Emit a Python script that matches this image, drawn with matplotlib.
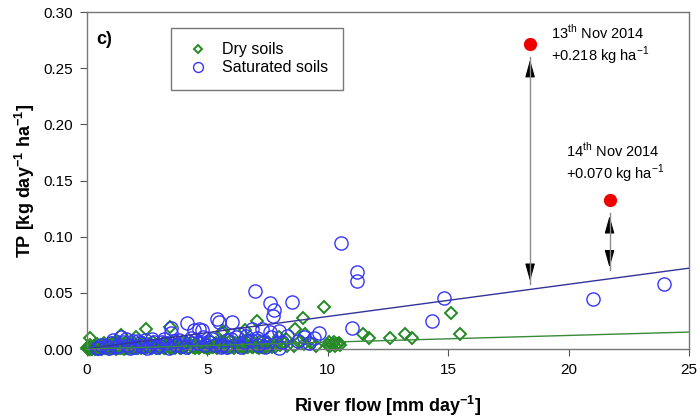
import numpy as np
import matplotlib
matplotlib.use("Agg")
import matplotlib.pyplot as plt

# Fonts: Arial-like look
plt.rcParams["font.family"] = ["Liberation Sans", "DejaVu Sans"]
plt.rcParams["mathtext.fontset"] = "custom"
plt.rcParams["mathtext.rm"] = "Liberation Sans"
plt.rcParams["mathtext.bf"] = "Liberation Sans:bold"

# Dry soils - dense band near zero
dry_band_flow = [0.02, 0.05, 0.08, 0.1, 0.15, 0.18, 0.22, 0.25, 0.3, 0.33, 0.36, 0.4, 0.45, 0.5,
                 0.55, 0.6, 0.65, 0.7, 0.75, 0.8, 0.86, 0.9, 0.95, 1.0, 1.05, 1.1, 1.15, 1.2,
                 1.28, 1.35, 1.4, 1.45, 1.5, 1.6, 1.7, 1.75, 1.8, 1.9, 2.0, 2.1, 2.2, 2.3, 2.4,
                 2.5, 2.6, 2.7, 2.8, 2.9, 3.0, 3.1, 3.2, 3.3, 3.4, 3.5, 3.6, 3.7, 3.8, 3.9, 4.0,
                 4.1, 4.2, 4.3, 4.4, 4.5, 4.6, 4.7, 4.8, 4.9, 5.0, 5.1, 5.2, 5.3, 5.4, 5.5, 5.6,
                 5.7, 5.8, 5.9, 6.0, 6.1, 6.2, 6.3, 6.4, 6.5, 6.6, 6.7, 6.8, 6.9, 7.0, 7.15, 7.3,
                 7.45, 7.6, 7.8, 8.0, 8.3, 8.6, 9.0, 9.5, 10.0, 10.1, 10.2, 10.3, 10.4, 10.5]
dry_band_tp = [0.0005, 0.001, 0.0002, 0.0015, 0.0008, 0.0003, 0.0012, 0.0005, 0.0018, 0.0006,
               0.0010, 0.0022, 0.0004, 0.0014, 0.0020, 0.0007, 0.0016, 0.0025, 0.0009, 0.0013,
               0.0021, 0.0005, 0.0017, 0.0028, 0.0011, 0.0019, 0.0006, 0.0024, 0.0013, 0.0030,
               0.0008, 0.0016, 0.0022, 0.0010, 0.0027, 0.0014, 0.0005, 0.0020, 0.0031, 0.0012,
               0.0018, 0.0026, 0.0007, 0.0015, 0.0029, 0.0010, 0.0021, 0.0034, 0.0013, 0.0024,
               0.0008, 0.0018, 0.0030, 0.0011, 0.0023, 0.0016, 0.0032, 0.0006, 0.0020, 0.0027,
               0.0012, 0.0035, 0.0017, 0.0009, 0.0025, 0.0014, 0.0030, 0.0021, 0.0007, 0.0028,
               0.0016, 0.0033, 0.0011, 0.0024, 0.0019, 0.0036, 0.0008, 0.0022, 0.0031, 0.0013,
               0.0026, 0.0018, 0.0034, 0.0010, 0.0029, 0.0021, 0.0038, 0.0015, 0.0025, 0.0012,
               0.0032, 0.0020, 0.0027, 0.0016, 0.0035, 0.0023, 0.0030, 0.0041, 0.0028, 0.0036,
               0.0025, 0.0045, 0.0030, 0.0048, 0.0038]
dry_band2_flow = [0.12, 0.28, 0.42, 0.58, 0.72, 0.88, 1.02, 1.18, 1.32, 1.48, 1.62, 1.78, 1.95,
                  2.15, 2.35, 2.55, 2.75, 2.95, 3.15, 3.35, 3.55, 3.75, 3.95, 4.15, 4.35, 4.55,
                  4.75, 4.95, 5.15, 5.35, 5.55, 5.75, 5.95, 6.15, 6.35, 6.55, 6.75, 6.95, 7.2,
                  7.5, 7.9, 8.2, 8.8, 9.3, 10.25, 10.45]
dry_band2_tp = [0.0040, 0.0030, 0.0045, 0.0035, 0.0050, 0.0040, 0.0055, 0.0045, 0.0060, 0.0042,
                0.0052, 0.0047, 0.0058, 0.0040, 0.0055, 0.0048, 0.0062, 0.0044, 0.0057, 0.0050,
                0.0065, 0.0046, 0.0058, 0.0052, 0.0067, 0.0049, 0.0060, 0.0054, 0.0070, 0.0050,
                0.0062, 0.0056, 0.0072, 0.0053, 0.0065, 0.0058, 0.0074, 0.0055, 0.0068, 0.0060,
                0.0065, 0.0058, 0.0062, 0.0052, 0.0060, 0.0050]
dry_band3_flow = [0.07, 0.2, 0.35, 0.48, 0.62, 0.78, 0.93, 1.08, 1.22, 1.38, 1.55, 1.68, 1.85,
                  2.05, 2.25, 2.45, 2.65, 2.85, 3.05, 3.25, 3.45, 3.65, 3.85, 4.05, 4.25, 4.45,
                  4.65, 4.85, 5.05, 5.25, 5.45, 5.65, 5.85, 6.05, 6.25, 6.45, 6.65, 6.85, 7.05,
                  7.25, 7.4, 7.55, 7.7]
dry_band3_tp = [0.0, 0.0003, 0.0001, 0.0004, 0.0, 0.0005, 0.0002, 0.0006, 0.0003, 0.0007,
                0.0004, 0.0008, 0.0005, 0.0009, 0.0006, 0.001, 0.0007, 0.0011, 0.0008, 0.0012,
                0.0009, 0.0013, 0.001, 0.0014, 0.0011, 0.0015, 0.0012, 0.0016, 0.0013, 0.0017,
                0.0014, 0.0018, 0.0015, 0.0019, 0.0016, 0.002, 0.0017, 0.0021, 0.0018, 0.0022,
                0.0019, 0.0023, 0.002]
# Dry soils - scattered points
dry_out_flow = [0.12, 1.15, 1.4, 2.02, 2.43, 3.44, 5.6, 5.64, 6.58, 7.06, 7.97, 8.27, 8.63,
                8.98, 9.05, 9.86, 10.04, 11.47, 11.7, 12.6, 13.2, 13.5, 15.1, 15.5]
dry_out_tp = [0.010, 0.0065, 0.0125, 0.011, 0.018, 0.020, 0.014, 0.016, 0.017, 0.025, 0.011,
              0.0085, 0.018, 0.028, 0.0135, 0.037, 0.0065, 0.013, 0.0095, 0.010, 0.013, 0.0095,
              0.032, 0.0134]

# Saturated soils
sat_flow = [0.43, 0.5, 0.6, 0.8, 0.9, 1.0, 1.1, 1.2, 1.3, 1.4, 1.5, 1.6, 1.7, 1.8, 1.9, 2.0,
            2.1, 2.2, 2.3, 2.4, 2.5, 2.6, 2.7, 2.8, 2.9, 3.0, 3.1, 3.2, 3.3, 3.4, 3.47, 3.5,
            3.6, 3.7, 3.8, 3.9, 4.0, 4.1, 4.16, 4.3, 4.44, 4.5, 4.6, 4.65, 4.79, 4.8, 4.9,
            5.06, 5.2, 5.3, 5.4, 5.5, 5.55, 5.6, 5.8, 5.82, 6.0, 6.03, 6.2, 6.3, 6.38, 6.5,
            6.6, 6.8, 6.86, 6.97, 7.07, 7.1, 7.27, 7.34, 7.4, 7.6, 7.62, 7.66, 7.72, 7.76,
            7.97, 7.97, 8.1, 8.3, 8.52, 8.77, 9.0, 9.2, 9.42, 9.63, 10.55, 11.0, 11.22,
            11.22, 14.33, 14.84, 21.0, 23.98]
sat_tp = [0.0005, 0.001, 0.004, 0.003, 0.001, 0.005, 0.008, 0.002, 0.003, 0.011, 0.006, 0.009,
          0.004, 0.001, 0.007, 0.002, 0.007, 0.005, 0.003, 0.008, 0.001, 0.003, 0.009, 0.006,
          0.002, 0.004, 0.006, 0.009, 0.005, 0.001, 0.0184, 0.0145, 0.007, 0.004, 0.008, 0.003,
          0.006, 0.002, 0.0234, 0.010, 0.017, 0.008, 0.005, 0.0175, 0.017, 0.011, 0.004,
          0.0065, 0.009, 0.004, 0.027, 0.0243, 0.0015, 0.0035, 0.002, 0.008, 0.009, 0.0243,
          0.011, 0.013, 0.002, 0.006, 0.012, 0.008, 0.0175, 0.0516, 0.0095, 0.004, 0.0175,
          0.0065, 0.002, 0.0407, 0.0154, 0.011, 0.029, 0.035, 0.016, 0.001, 0.006, 0.012,
          0.0415, 0.007, 0.011, 0.005, 0.0095, 0.014, 0.0947, 0.019, 0.0683, 0.0608, 0.0252,
          0.0457, 0.0445, 0.058]

# Regression lines (end points)
line_flow = [0, 25]
sat_fit = [0.0003, 0.072]
dry_fit = [0.0001, 0.0151]

# Storm events
event_flow = [18.4, 21.7]
event_tp = [0.2716, 0.1327]
arrow_top = [0.260, 0.121]
arrow_bottom = [0.058, 0.070]
event_labels = ["13$^{\\mathrm{th}}$ Nov 2014\n+0.218 kg ha$^{-1}$",
                "14$^{\\mathrm{th}}$ Nov 2014\n+0.070 kg ha$^{-1}$"]
label_pos = [(19.25, 0.2707), (19.9, 0.1656)]

dry_x = np.concatenate([dry_band_flow, dry_band2_flow, dry_band3_flow, dry_out_flow])
dry_y = np.concatenate([dry_band_tp, dry_band2_tp, dry_band3_tp, dry_out_tp])

fig = plt.figure(figsize=(7, 4.17), dpi=100)
ax = fig.add_axes([0.1243, 0.163, 0.86, 0.808])

green = "#238a23"
blue = "#3636ff"

ax.plot(dry_x, dry_y, linestyle="none", marker="D", ms=6, mfc="none", mec=green,
        mew=1.4, label="Dry soils", clip_on=False, zorder=2)
ax.plot(sat_flow, sat_tp, linestyle="none", marker="o", ms=9.5, mfc="none", mec=blue,
        mew=1.0, label="Saturated soils", clip_on=False, zorder=3)

ax.plot(line_flow, sat_fit, color="#33339a", lw=1.0, zorder=4)
ax.plot(line_flow, dry_fit, color="#3a8a3a", lw=1.0, zorder=4)

# Red event points, arrows and labels
ax.plot(event_flow, event_tp, linestyle="none", marker="o", ms=8.5, color="#ee0000", zorder=5)
head = "-|>,head_length=0.9,head_width=0.25"
for i in range(len(event_flow)):
    ax.plot([event_flow[i], event_flow[i]], [arrow_bottom[i], arrow_top[i]], color="#8c8c8c",
            lw=1.0, zorder=4)
    ax.annotate("", xy=(event_flow[i], arrow_top[i]), xytext=(event_flow[i], arrow_top[i] - 0.012),
                arrowprops=dict(arrowstyle=head, color="black", lw=0.8, mutation_scale=12))
    ax.annotate("", xy=(event_flow[i], arrow_bottom[i]),
                xytext=(event_flow[i], arrow_bottom[i] + 0.012),
                arrowprops=dict(arrowstyle=head, color="black", lw=0.8, mutation_scale=12))
    ax.text(label_pos[i][0], label_pos[i][1], event_labels[i], fontsize=10.5, va="center",
            ha="left", linespacing=1.2)

ax.text(0.4, 0.276, "c)", fontsize=13, fontweight="bold", va="center")

ax.set_xlim(0, 25)
ax.set_ylim(0, 0.30)
ax.set_xticks([0, 5, 10, 15, 20, 25])
ax.set_yticks([0.0, 0.05, 0.10, 0.15, 0.20, 0.25, 0.30])
ax.set_yticklabels(["0.00", "0.05", "0.10", "0.15", "0.20", "0.25", "0.30"])
ax.tick_params(labelsize=11, direction="out", length=5, color="#555555", pad=5)
for s in ax.spines.values():
    s.set_color("#777777")
    s.set_linewidth(1.0)

ax.set_xlabel("River flow [mm day$^{\\mathbf{-1}}$]", fontsize=13, fontweight="bold", labelpad=12)
ax.set_ylabel("TP [kg day$^{\\mathbf{-1}}$ ha$^{\\mathbf{-1}}$]", fontsize=13, fontweight="bold",
              labelpad=5)

leg = ax.legend(loc="upper left", bbox_to_anchor=(0.14, 0.953), borderaxespad=0, fontsize=11.5,
                frameon=True, fancybox=False, handlelength=1.5, handletextpad=0.8,
                labelspacing=0.2, borderpad=0.9, markerscale=0.75)
leg.get_frame().set_edgecolor("#555555")
leg.get_frame().set_linewidth(1.0)

fig.savefig("out.png", dpi=100)
